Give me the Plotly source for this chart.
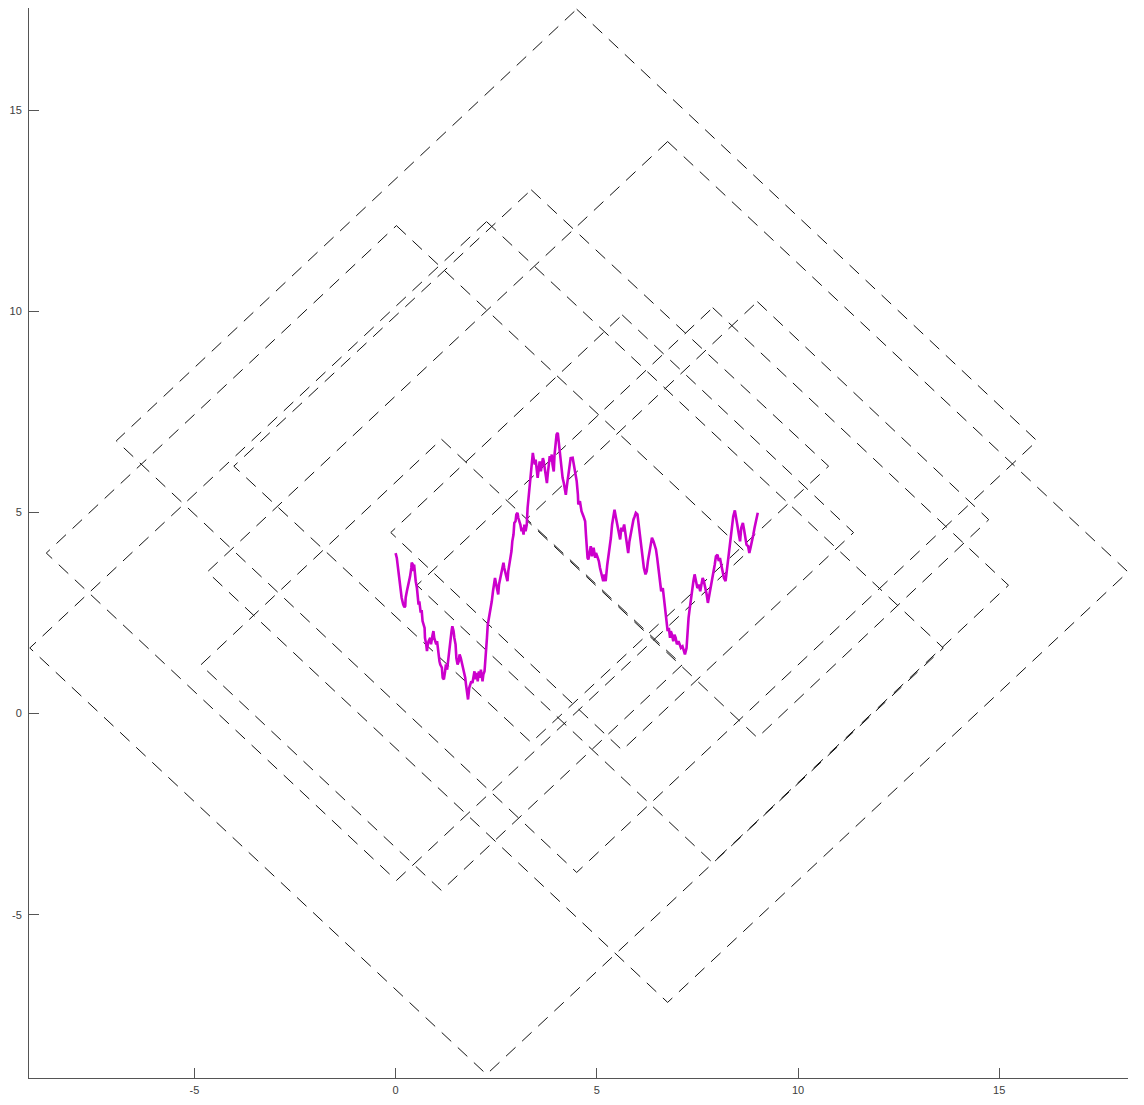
import plotly.graph_objects as go

# Brownian path
path_t = [
    0.00, 0.03, 0.05, 0.07, 0.09, 0.11, 0.14, 0.15, 0.19, 0.22,
    0.24, 0.25, 0.28, 0.30, 0.34, 0.36, 0.39, 0.40, 0.43, 0.44,
    0.46, 0.48, 0.50, 0.53, 0.55, 0.57, 0.59, 0.62, 0.65, 0.67,
    0.72, 0.73, 0.76, 0.78, 0.80, 0.82, 0.86, 0.88, 0.92, 0.94,
    0.96, 0.98, 1.01, 1.03, 1.06, 1.09, 1.11, 1.15, 1.17, 1.20,
    1.23, 1.25, 1.28, 1.31, 1.34, 1.36, 1.39, 1.41, 1.44, 1.46,
    1.49, 1.51, 1.54, 1.57, 1.59, 1.62, 1.64, 1.67, 1.69, 1.73,
    1.75, 1.78, 1.80, 1.83, 1.85, 1.88, 1.91, 1.93, 1.96, 1.99,
    2.02, 2.04, 2.07, 2.10, 2.12, 2.16, 2.18, 2.21, 2.24, 2.27,
    2.29, 2.32, 2.36, 2.39, 2.42, 2.45, 2.47, 2.50, 2.52, 2.55,
    2.57, 2.60, 2.62, 2.65, 2.68, 2.70, 2.73, 2.75, 2.78, 2.80,
    2.83, 2.85, 2.88, 2.90, 2.93, 2.95, 2.98, 3.00, 3.03, 3.05,
    3.08, 3.10, 3.13, 3.15, 3.18, 3.20, 3.23, 3.26, 3.28, 3.31,
    3.33, 3.36, 3.38, 3.41, 3.43, 3.46, 3.48, 3.51, 3.53, 3.56,
    3.58, 3.61, 3.63, 3.66, 3.68, 3.71, 3.73, 3.76, 3.78, 3.81,
    3.83, 3.86, 3.88, 3.90, 3.93, 3.95, 3.98, 4.00, 4.03, 4.05,
    4.08, 4.10, 4.13, 4.15, 4.18, 4.20, 4.23, 4.25, 4.28, 4.30,
    4.33, 4.35,
    4.40, 4.46, 4.50, 4.53, 4.54, 4.58, 4.62, 4.67, 4.71, 4.73,
    4.75, 4.77, 4.79, 4.82, 4.85, 4.88, 4.92, 4.96, 4.98, 5.01,
    5.05, 5.08, 5.12, 5.16, 5.19, 5.22, 5.26, 5.31, 5.35, 5.38,
    5.41, 5.44, 5.47, 5.51, 5.55, 5.58, 5.61, 5.64, 5.68, 5.71,
    5.74, 5.78, 5.81, 5.84, 5.88, 5.91, 5.94, 5.97, 6.01, 6.04,
    6.07, 6.11, 6.14, 6.17, 6.21, 6.24, 6.27, 6.31, 6.34, 6.37,
    6.41, 6.44, 6.47, 6.50, 6.54, 6.57, 6.60, 6.64, 6.67, 6.70,
    6.74, 6.76, 6.79, 6.82, 6.84, 6.87, 6.90, 6.93, 6.96, 6.99,
    7.03, 7.06, 7.09, 7.13, 7.16, 7.19, 7.23, 7.25, 7.28, 7.30,
    7.33, 7.37, 7.40, 7.43, 7.47, 7.50, 7.53, 7.57, 7.60, 7.63,
    7.66, 7.70, 7.73, 7.76, 7.80, 7.83, 7.86, 7.90, 7.93, 7.96,
    8.00, 8.03, 8.06, 8.10, 8.13, 8.16, 8.20, 8.23, 8.26, 8.29,
    8.33, 8.36, 8.39, 8.43, 8.46, 8.49, 8.53, 8.56, 8.59, 8.63,
    8.66, 8.69, 8.72, 8.76, 8.79, 8.82, 8.86, 8.89, 8.92, 8.96,
    8.99, 9.00,
]
path_y = [
    3.99, 3.87, 3.70, 3.54, 3.29, 3.21, 3.04, 2.88, 2.71, 2.64,
    2.67, 2.88, 3.04, 3.12, 3.29, 3.41, 3.62, 3.75, 3.70, 3.54,
    3.70, 3.46, 3.29, 3.12, 2.88, 2.71, 2.79, 2.54, 2.54, 2.30,
    2.13, 1.88, 1.72, 1.55, 1.72, 1.80, 1.88, 1.72, 1.96, 2.05,
    1.88, 1.80, 1.72, 1.80, 1.47, 1.30, 1.22, 1.14, 0.89, 0.85,
    1.05, 1.22, 1.09, 1.38, 1.55, 1.88, 2.05, 2.17, 2.05, 1.88,
    1.72, 1.38, 1.22, 1.30, 1.47, 1.38, 1.30, 1.14, 1.05, 0.89,
    0.72, 0.47, 0.35, 0.64, 0.72, 0.80, 0.76, 0.89, 1.05, 0.85,
    1.01, 0.80, 1.05, 0.89, 1.09, 0.80, 0.97, 1.05, 1.38, 1.88,
    2.21, 2.38, 2.54, 2.79, 3.04, 3.29, 3.37, 3.21, 3.12, 2.96,
    3.21, 3.37, 3.46, 3.54, 3.75, 3.62, 3.46, 3.37, 3.29, 3.54,
    3.70, 3.87, 4.04, 4.28, 4.45, 4.74, 4.78, 4.95, 4.99, 4.86,
    4.78, 4.70, 4.53, 4.62, 4.45, 4.70, 4.53, 4.70, 5.11, 5.44,
    5.78, 6.02, 6.27, 6.48, 6.35, 6.19, 6.31, 6.11, 5.86, 6.11,
    6.27, 6.02, 6.19, 6.35, 6.27, 6.02, 5.94, 5.73, 5.94, 6.19,
    6.40, 6.27, 6.44, 6.19, 6.02, 6.44, 6.77, 6.94, 6.98, 6.77,
    6.52, 6.27, 6.02, 5.86, 5.73, 5.61, 5.44, 5.61, 5.86, 6.02,
    6.19, 6.35,
    6.36, 6.02, 5.78, 5.44, 5.20, 5.28, 5.03, 4.90, 4.78, 4.45,
    4.12, 3.87, 3.83, 4.04, 4.16, 3.91, 4.12, 3.87, 3.99, 3.91,
    3.79, 3.62, 3.41, 3.29, 3.46, 3.29, 3.70, 4.04, 4.37, 4.70,
    4.95, 5.07, 4.90, 4.70, 4.45, 4.33, 4.62, 4.53, 4.70, 4.45,
    4.20, 3.99, 4.28, 4.45, 4.62, 4.82, 4.90, 4.99, 4.95, 4.70,
    4.45, 4.12, 3.87, 3.62, 3.46, 3.54, 3.79, 4.04, 4.20, 4.37,
    4.28, 4.16, 4.08, 3.87, 3.54, 3.21, 3.04, 3.12, 2.88, 2.63,
    2.30, 2.05, 2.13, 1.88, 2.05, 1.96, 1.80, 1.96, 1.88, 1.72,
    1.80, 1.72, 1.63, 1.67, 1.55, 1.47, 1.63, 2.05, 2.38, 2.54,
    2.79, 3.04, 3.29, 3.46, 3.29, 3.12, 3.21, 3.04, 3.21, 3.37,
    3.29, 3.12, 2.96, 2.75, 2.96, 3.21, 3.37, 3.54, 3.70, 3.91,
    3.95, 3.79, 3.87, 3.66, 3.50, 3.37, 3.29, 3.54, 3.79, 4.12,
    4.37, 4.70, 4.90, 5.05, 4.90, 4.70, 4.45, 4.28, 4.62, 4.74,
    4.57, 4.37, 4.20, 4.16, 3.99, 4.12, 4.37, 4.45, 4.62, 4.78,
    4.90, 4.99,
]

# dashed diamonds: centre, half-width, half-height
box_cx = [4.50, 6.76, 3.37, 0.02, 2.26, 5.63, 7.88, 8.99, 1.14]
box_cy = [6.78, 3.52, 6.15, 3.99, 1.63, 4.50, 3.19, 4.82, 1.21]
box_hw = [11.44, 11.44, 7.39, 8.70, 11.35, 5.75, 7.35, 5.75, 5.98]
box_hh = [10.73, 10.70, 6.87, 8.14, 10.60, 5.41, 6.90, 5.42, 5.61]

tick_vals = [-5, 0, 5, 10, 15]
tick_text = ["-5", "0", "5", "10", "15"]

fig = go.Figure()

# diamonds first so the path sits on top
for cx, cy, hw, hh in zip(box_cx, box_cy, box_hw, box_hh):
    fig.add_trace(go.Scatter(
        x=[cx, cx + hw, cx, cx - hw, cx],
        y=[cy + hh, cy, cy - hh, cy, cy + hh],
        mode="lines",
        line=dict(color="#111111", width=1, dash="13px,9px"),
        hoverinfo="skip",
    ))

fig.add_trace(go.Scatter(
    x=path_t, y=path_y,
    mode="lines",
    line=dict(color="#CC00CC", width=2.6),
))

axis_style = dict(
    showgrid=False,
    zeroline=False,
    showline=True,
    linecolor="#555555",
    linewidth=1,
    ticks="inside",
    ticklen=10,
    tickcolor="#555555",
    tickvals=tick_vals,
    ticktext=tick_text,
    tickfont=dict(family="Liberation Sans, Arial, sans-serif", size=11, color="#404040"),
    automargin=False,
)

fig.update_xaxes(range=[-9.11, 18.20], ticklabelstandoff=2, **axis_style)
fig.update_yaxes(range=[-9.06, 17.54], ticklabelstandoff=4, **axis_style)

# the page body adds 8px all round, so the figure is sized to fit inside it
fig.update_layout(
    width=1128,
    height=1089,
    margin=dict(l=21, r=8, t=0, b=19),
    showlegend=False,
    plot_bgcolor="white",
    paper_bgcolor="white",
)

fig.write_html("out.html")
